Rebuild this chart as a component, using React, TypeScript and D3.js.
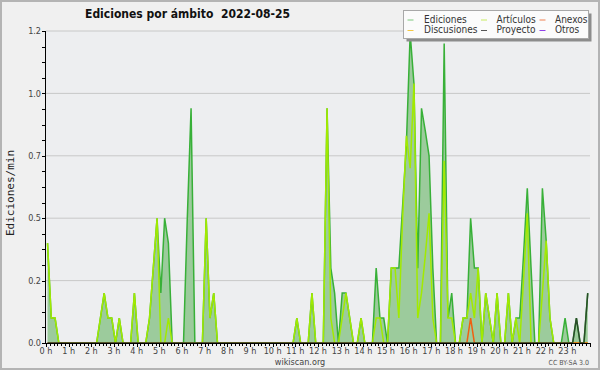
import React from "react";
import * as d3 from "d3";

// 10-minute bins, edits per minute
const ediciones = [
  0.4, 0.1, 0.1, 0, 0, 0, 0, 0, 0, 0, 0, 0,
  0, 0, 0.1, 0.2, 0.1, 0.1, 0, 0.1, 0, 0, 0, 0.2,
  0, 0, 0, 0.1, 0.3, 0.5, 0.2, 0.5, 0.4, 0, 0, 0,
  0, 0.5, 0.94, 0, 0, 0, 0.5, 0.1, 0.2, 0, 0, 0,
  0, 0, 0, 0, 0, 0, 0, 0, 0, 0, 0, 0,
  0, 0, 0, 0, 0, 0, 0.1, 0, 0, 0, 0.2, 0,
  0, 0, 0.94, 0.3, 0.2, 0, 0.2, 0.2, 0.1, 0, 0, 0.1,
  0, 0, 0, 0.3, 0.1, 0.1, 0, 0.3, 0.3, 0.3, 0.55, 0.8,
  1.24, 1.04, 0.3, 0.94, 0.85, 0.75, 0.3, 0, 0, 1.2, 0.1, 0.2,
  0, 0, 0.1, 0.1, 0.5, 0.3, 0.3, 0, 0.2, 0.1, 0, 0.2,
  0, 0, 0.2, 0, 0.1, 0.1, 0.35, 0.62, 0.3, 0, 0, 0.62,
  0.41, 0.1, 0, 0, 0, 0.1, 0, 0, 0.1, 0, 0, 0.2,
];

const articulos = [
  0.4, 0.1, 0.1, 0, 0, 0, 0, 0, 0, 0, 0, 0,
  0, 0, 0.1, 0.2, 0.1, 0.1, 0, 0.1, 0, 0, 0, 0.2,
  0, 0, 0, 0.1, 0.3, 0.5, 0, 0, 0.1, 0, 0, 0,
  0, 0, 0, 0, 0, 0, 0.5, 0.1, 0.2, 0, 0, 0,
  0, 0, 0, 0, 0, 0, 0, 0, 0, 0, 0, 0,
  0, 0, 0, 0, 0, 0, 0.1, 0, 0, 0, 0.2, 0,
  0, 0, 0.94, 0.1, 0, 0, 0.1, 0.2, 0.1, 0, 0, 0.1,
  0, 0, 0, 0.1, 0.1, 0, 0, 0.3, 0.3, 0.1, 0.5, 0.83,
  0.7, 1.04, 0.1, 0.2, 0.35, 0.52, 0.1, 0, 0, 0.73, 0.1, 0.1,
  0, 0, 0.1, 0.1, 0.2, 0.1, 0.3, 0, 0.2, 0.1, 0, 0.2,
  0, 0, 0.2, 0, 0.1, 0, 0.25, 0.52, 0, 0, 0, 0.2,
  0.41, 0.1, 0, 0, 0, 0, 0, 0, 0, 0, 0, 0,
];

// sparse series: [bin, value]
const anexosNonZero = [[112, 0.1]];
const proyectoNonZero = [[140, 0.1], [143, 0.2]];

const hourLabels = [
  "0 h", "1 h", "2 h", "3 h", "4 h", "5 h", "6 h", "7 h", "8 h", "9 h", "10 h", "11 h",
  "12 h", "13 h", "14 h", "15 h", "16 h", "17 h", "18 h", "19 h", "20 h", "21 h", "22 h", "23 h",
];
const yTickValues = [0, 0.25, 0.5, 0.75, 1.0, 1.25];
const yTickLabels = ["0.0", "0.2", "0.5", "0.7", "1.0", "1.2"];

const legendItems = [
  { label: "Ediciones", color: "#7cc87c", col: 0, row: 0 },
  { label: "Discusiones", color: "#f5c842", col: 0, row: 1 },
  { label: "Artículos", color: "#c8ec60", col: 1, row: 0 },
  { label: "Proyecto", color: "#555555", col: 1, row: 1 },
  { label: "Anexos", color: "#f08050", col: 2, row: 0 },
  { label: "Otros", color: "#9040e8", col: 2, row: 1 },
];

const W = 600, H = 370;
const left = 46, right = 590, top = 31, bottom = 343;
const BINS = 144;

function expand(pairs) {
  const out = new Array(BINS).fill(0);
  pairs.forEach(([i, v]) => { out[i] = v; });
  return out;
}

export default function App() {
  const x = d3.scaleLinear().domain([0, BINS]).range([left, right]);
  const y = d3.scaleLinear().domain([0, 1.25]).range([bottom, top]);
  const px = (i) => x(i + 0.4);

  const area = d3.area().x((d, i) => px(i)).y0(y(0)).y1(d => y(d));
  const line = d3.line().x((d, i) => px(i)).y(d => y(d));

  const anexos = expand(anexosNonZero);
  const proyecto = expand(proyectoNonZero);

  const minorY = d3.range(0, 1.25 + 1e-9, 0.0625);
  const minorX = d3.range(0, BINS + 1);

  const legCols = [407.5, 481, 539.5];
  const legText = [424, 496.5, 555];
  const legRows = [20, 30.5];
  const legBase = [22.8, 33];

  const sans = "'DejaVu Sans Condensed', 'DejaVu Sans', sans-serif";

  return (
    <svg width={W} height={H} style={{ position: "absolute", left: 0, top: 0 }}>
      <defs>
        <clipPath id="plot">
          <rect x={left} y={top - 3} width={right - left} height={bottom - top + 3} />
        </clipPath>
      </defs>
      <rect x={1} y={1} width={W - 2} height={H - 2} fill="#f0f0f0" stroke="#b4b4b4" strokeWidth={2} />
      <rect x={left} y={top} width={right - left} height={bottom - top} fill="#edeef0" />

      {/* grid */}
      {yTickValues.slice(1).map(v => (
        <line key={v} x1={left} x2={right} y1={y(v)} y2={y(v)} stroke="#c8c8c8" strokeWidth={1} />
      ))}

      <g clipPath="url(#plot)">
        <path d={area(ediciones)} fill="#9ccb9c" />
        <path d={line(ediciones)} fill="none" stroke="#38b038" strokeWidth={1.5} />
        <path d={line(articulos)} fill="none" stroke="#a2ea00" strokeWidth={1.5} />
        <path d={line(anexos)} fill="none" stroke="#f06010" strokeWidth={1.5} />
        <path d={line(proyecto)} fill="none" stroke="#2a4a2a" strokeWidth={1.5} />
      </g>

      {/* axes */}
      <g stroke="#000" strokeWidth={1}>
        <line x1={left - 0.5} x2={left - 0.5} y1={top} y2={bottom + 0.5} />
        <line x1={left - 0.5} x2={right} y1={bottom + 0.5} y2={bottom + 0.5} />
        {minorY.map(v => (
          <line key={v} x1={left - 4} x2={left} y1={Math.round(y(v)) + 0.5} y2={Math.round(y(v)) + 0.5} />
        ))}
        {minorX.map(i => (
          <line key={i} x1={Math.round(x(i)) + 0.5} x2={Math.round(x(i)) + 0.5} y1={bottom} y2={bottom + (i % 6 === 0 ? 4 : 3)} />
        ))}
      </g>

      <g fontFamily={sans} fontSize={9} fill="#444">
        {yTickValues.map((v, i) => (
          <text key={v} x={41} y={y(v)} dy="0.35em" textAnchor="end">{yTickLabels[i]}</text>
        ))}
        {hourLabels.map((h, i) => (
          <text key={h} x={x(i * 6)} y={353.5} textAnchor="middle">{h}</text>
        ))}
      </g>

      <text x={85} y={18} fontFamily="'DejaVu Sans', sans-serif" fontWeight="bold" fontSize={12}
        textLength={205} lengthAdjust="spacingAndGlyphs" style={{ whiteSpace: "pre" }} fill="#111">
        {"Ediciones por ámbito  2022-08-25"}
      </text>

      <text transform="translate(14,193) rotate(-90)" textAnchor="middle"
        fontFamily="'DejaVu Sans Mono', monospace" fontSize={11} fill="#222">Ediciones/min</text>

      <text x={300} y={365} textAnchor="middle" fontFamily={sans} fontSize={9} fill="#444">wikiscan.org</text>
      <text x={589} y={365} textAnchor="end" fontFamily={sans} fontSize={7} fill="#555">CC BY-SA 3.0</text>

      {/* legend */}
      <rect x={406.5} y={13.5} width={185} height={28} fill="#8c8c8c" />
      <rect x={403.5} y={10.5} width={185} height={28} fill="#fbfbfb" stroke="#a8a8a8" strokeWidth={1} />
      {legendItems.map(d => (
        <g key={d.label}>
          <line x1={legCols[d.col]} x2={legCols[d.col] + 6} y1={legRows[d.row]} y2={legRows[d.row]} stroke={d.color} strokeWidth={1} />
          <text x={legText[d.col]} y={legBase[d.row]} fontFamily={sans} fontSize={10} fill="#333">{d.label}</text>
        </g>
      ))}
    </svg>
  );
}
